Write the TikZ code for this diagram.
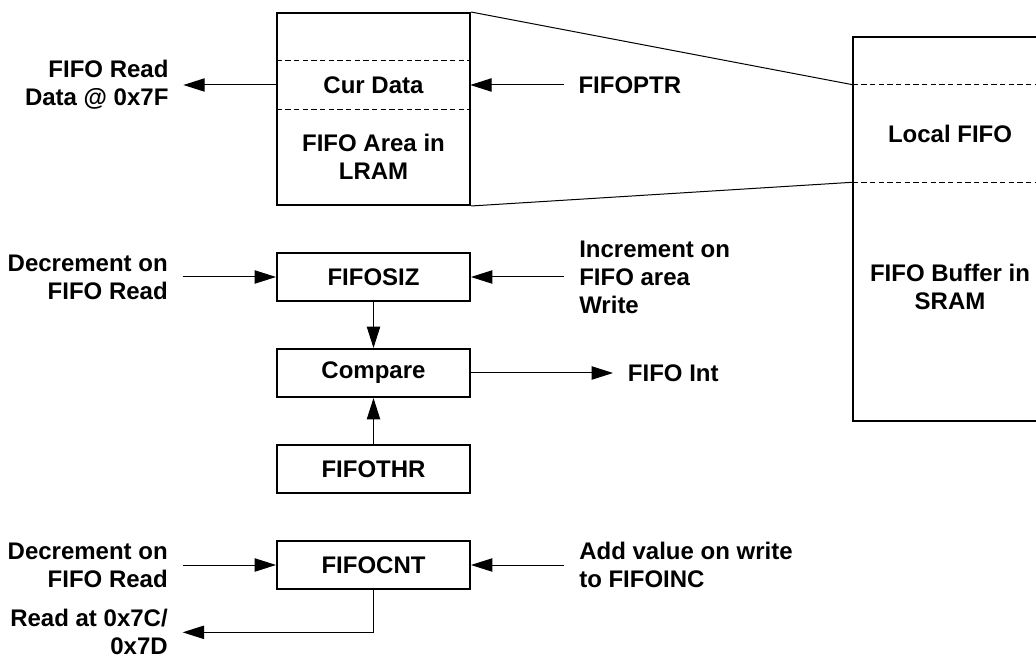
\documentclass[tikz,border=0pt]{standalone}
\usepackage{fontspec}
\setmainfont{Liberation Sans}
\usetikzlibrary{arrows.meta,positioning}

\begin{document}
\begin{tikzpicture}[x=0.75pt,y=-0.75pt,>={Triangle[length=16pt,width=10pt]},
    font=\fontsize{18}{21}\selectfont\bfseries,
    reg/.style={draw,line width=1.5pt,minimum width=144.75pt,minimum height=36pt,inner sep=0pt},
    lbl/.style={inner xsep=11pt,inner ysep=0pt},
    conn/.style={->,line width=0.75pt},
    sect/.style={dashed,line width=0.6pt,dash pattern=on 4pt off 2.5pt},
    node distance=70pt]
    \useasboundingbox (0,0) rectangle (1036,659);
    % LRAM area
    \node[reg,minimum height=144pt] (lram) at (373.5,109) {};
    \node[minimum width=144.75pt,minimum height=36pt,inner sep=0pt] (curdata) at (373.5,85) {Cur Data};
    \draw[sect] (curdata.north west) -- (curdata.north east)
                (curdata.south west) -- (curdata.south east);
    \node[align=center] (lramarea) at (373.5,157) {FIFO Area in\\LRAM};
    % SRAM buffer
    \node[draw,line width=1.5pt,minimum width=145.5pt,minimum height=288pt,inner sep=0pt] (sram) at (950,229) {};
    \node[minimum width=145.5pt,minimum height=72.75pt,inner sep=0pt] (localfifo) at (950,133.5) {Local FIFO};
    \draw[sect] (localfifo.north west) -- (localfifo.north east)
                (localfifo.south west) -- (localfifo.south east);
    \node[align=center] (srambuf) at (950,287) {FIFO Buffer in\\SRAM};
    \draw[line width=0.75pt] (lram.north east) -- (localfifo.north west)
                             (lram.south east) -- (localfifo.south west);
    % read and pointer
    \node[lbl,align=right,left=of curdata] (rddata) {FIFO Read\\Data @ 0x7F};
    \node[lbl,align=left,right=of curdata] (fifoptr) {FIFOPTR};
    \draw[conn] (curdata.west) -- (rddata.east);
    \draw[conn] (fifoptr.west) -- (curdata.east);
    % size, compare, threshold
    \node[reg] (fifosiz) at (373.5,277) {FIFOSIZ};
    \node[reg,below=34.5pt of fifosiz] (compare) {Compare};
    \node[reg,below=34.5pt of compare] (fifothr) {FIFOTHR};
    \node[lbl,align=right,left=of fifosiz] (decsiz) {Decrement on\\FIFO Read};
    \node[lbl,align=left,right=of fifosiz] (incsiz) {Increment on\\FIFO area\\Write};
    \node[lbl,right=106.5pt of compare] (fifoint) {FIFO Int};
    \draw[conn] (decsiz.east) -- (fifosiz.west);
    \draw[conn] (incsiz.west) -- (fifosiz.east);
    \draw[conn] (fifosiz.south) -- (compare.north);
    \draw[conn] (fifothr.north) -- (compare.south);
    \draw[conn] (compare.east) -- (fifoint.west);
    % count
    \node[reg,below=34.5pt of fifothr] (fifocnt) {FIFOCNT};
    \node[lbl,align=right,left=of fifocnt] (deccnt) {Decrement on\\FIFO Read};
    \node[lbl,align=left,right=of fifocnt] (addcnt) {Add value on write\\to FIFOINC};
    \node[lbl,align=right,anchor=east] (rdcnt) at ([yshift=-50.5pt]deccnt.east) {Read at 0x7C/\\0x7D};
    \draw[conn] (deccnt.east) -- (fifocnt.west);
    \draw[conn] (addcnt.west) -- (fifocnt.east);
    \draw[conn] (fifocnt.south) |- (rdcnt.east);
\end{tikzpicture}
\end{document}
